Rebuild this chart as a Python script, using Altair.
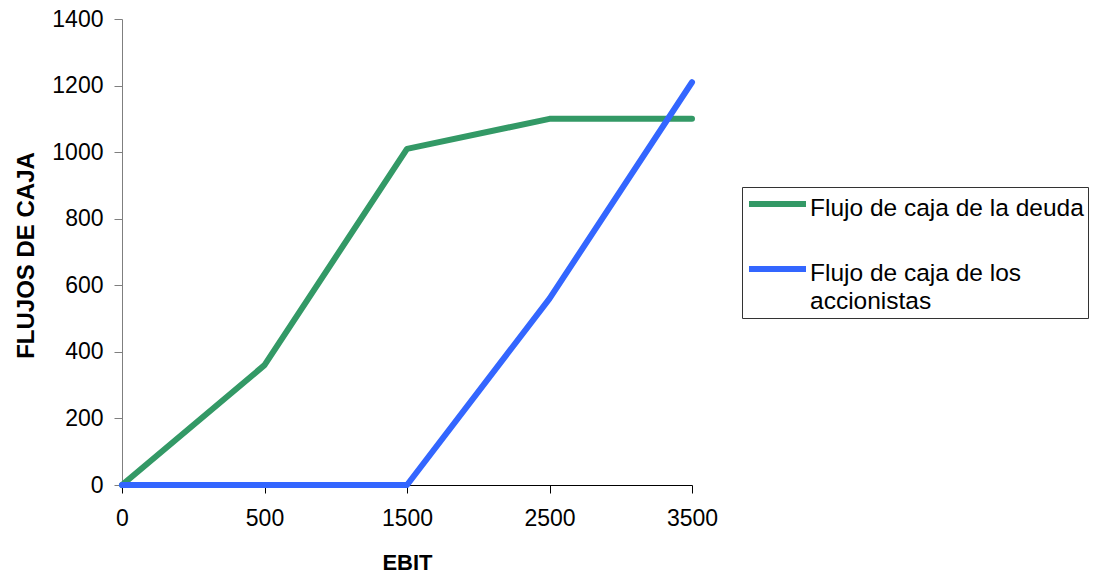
import altair as alt
import pandas as pd

# ---- data ----
ebit = ["0", "500", "1500", "2500", "3500"]
deuda = [0, 360, 1010, 1100, 1100]
accionistas = [0, 0, 0, 560, 1210]
series = ["Flujo de caja de la deuda", "Flujo de caja de los accionistas"]
colors = ["#339966", "#3366FF"]
y_ticks = [0, 200, 400, 600, 800, 1000, 1200, 1400]

rows = []
for s, vals in zip(series, [deuda, accionistas]):
    for i, (e, v) in enumerate(zip(ebit, vals)):
        rows.append({"EBIT": e, "Flujo": v, "Serie": s, "orden": i})
df = pd.DataFrame(rows)

FONT = "Liberation Sans"

chart = alt.Chart(df).mark_line(
    strokeWidth=6, strokeCap="round", strokeJoin="round"
).encode(
    x=alt.X(
        "EBIT:O",
        sort=ebit,
        scale=alt.Scale(padding=0),
        axis=alt.Axis(
            title="EBIT",
            labelAngle=0,
            labelFont=FONT,
            labelFontSize=23,
            labelColor="black",
            labelPadding=14,
            tickSize=8,
            tickColor="black",
            domainColor="black",
            titleFont=FONT,
            titleFontSize=22,
            titleFontWeight="bold",
            titleColor="black",
            titleY=67,
            titleBaseline="top",
        ),
    ),
    y=alt.Y(
        "Flujo:Q",
        scale=alt.Scale(domain=[0, 1400]),
        axis=alt.Axis(
            title="FLUJOS DE CAJA",
            values=y_ticks,
            format="d",
            grid=False,
            labelFont=FONT,
            labelFontSize=23,
            labelColor="black",
            labelPadding=11,
            tickSize=8,
            tickColor="#7f7f7f",
            domainColor="#7f7f7f",
            titleFont=FONT,
            titleFontSize=24,
            titleFontWeight="bold",
            titleColor="black",
            titleX=-84,
            titleY=236,
            titleAlign="center",
            titleBaseline="bottom",
        ),
    ),
    color=alt.Color(
        "Serie:N",
        scale=alt.Scale(domain=series, range=colors),
        legend=alt.Legend(
            title=None,
            orient="none",
            legendX=620,
            legendY=168,
            direction="vertical",
            strokeColor="#333333",
            fillColor="white",
            padding=4,
            symbolType="M-1,0.2456H1",
            symbolSize=3249,
            symbolStrokeWidth=6,
            clipHeight=12,
            rowPadding=35,
            labelFont=FONT,
            labelFontSize=24.5,
            labelColor="black",
            labelLimit=500,
            labelOffset=1,
            labelBaseline="top",
            labelExpr="datum.label == 'Flujo de caja de los accionistas' ? ['Flujo de caja de los', 'accionistas'] : datum.label",
        ),
    ),
    order="orden:Q",
).properties(
    width=570,
    height=466,
    padding={"left": 122, "top": 19, "right": 408, "bottom": 88},
    autosize=alt.AutoSizeParams(type="none"),
).configure(
    style={"guide-label": {"lineHeight": 28}}
).configure_view(strokeWidth=0)

chart.save("out.html", embed_options={"renderer": "svg", "actions": False})
